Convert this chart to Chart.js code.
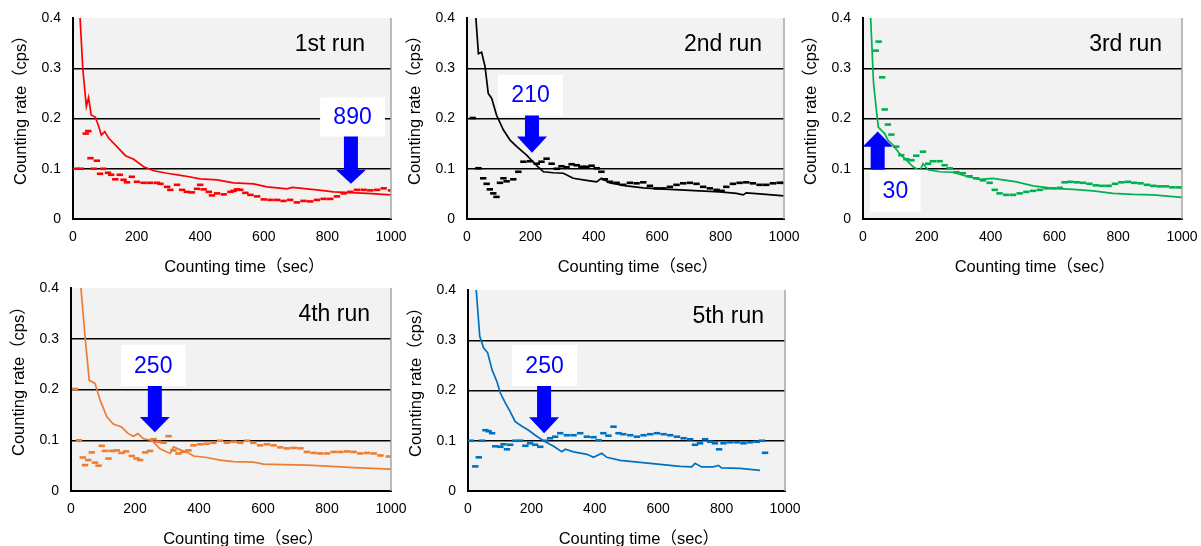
<!DOCTYPE html>
<html>
<head>
<meta charset="utf-8">
<script src="https://cdn.jsdelivr.net/npm/chart.js@4.4.0/dist/chart.umd.min.js"></script>
<style>
  body { margin: 0; background: #fff; overflow: hidden; width: 1201px; height: 546px; position: relative; }
  canvas { position: absolute; }
</style>
</head>
<body>
<canvas id="run1"></canvas>
<canvas id="run2"></canvas>
<canvas id="run3"></canvas>
<canvas id="run4"></canvas>
<canvas id="run5"></canvas>
<script>
// values (time in sec, rate in cps)
var run1LineT = [18, 31, 42, 49, 57, 70, 81, 89, 100, 112, 138, 165, 191, 222, 254, 296, 348, 400, 453, 505, 568, 610, 673, 689, 767, 820, 925, 1000];
var run1LineY = [0.45, 0.297, 0.224, 0.242, 0.207, 0.203, 0.184, 0.167, 0.174, 0.161, 0.144, 0.126, 0.119, 0.104, 0.096, 0.091, 0.086, 0.080, 0.078, 0.072, 0.070, 0.064, 0.060, 0.063, 0.058, 0.054, 0.051, 0.048];
var run1DotT = [10, 25, 40, 48, 55, 65, 75, 85, 95, 110, 120, 133, 147, 159, 170, 185, 201, 222, 243, 264, 275, 296, 306, 327, 343, 358, 374, 390, 400, 411, 427, 437, 453, 474, 495, 505, 516, 526, 542, 558, 579, 600, 621, 642, 662, 683, 704, 725, 746, 767, 788, 809, 830, 851, 872, 893, 914, 935, 956, 977, 1000];
var run1DotY = [0.100, 0.100, 0.170, 0.175, 0.121, 0.100, 0.116, 0.090, 0.100, 0.092, 0.088, 0.079, 0.088, 0.078, 0.073, 0.084, 0.074, 0.072, 0.072, 0.072, 0.070, 0.064, 0.058, 0.068, 0.058, 0.054, 0.053, 0.060, 0.068, 0.059, 0.054, 0.047, 0.051, 0.049, 0.054, 0.056, 0.059, 0.058, 0.052, 0.048, 0.045, 0.039, 0.038, 0.038, 0.036, 0.038, 0.033, 0.036, 0.035, 0.038, 0.040, 0.040, 0.045, 0.051, 0.054, 0.058, 0.058, 0.057, 0.058, 0.061, 0.057];

var run2LineT = [20, 28, 36, 46, 57, 67, 78, 93, 115, 136, 157, 188, 220, 241, 272, 304, 335, 377, 409, 424, 451, 503, 556, 608, 671, 734, 797, 850, 871, 881, 923, 1000];
var run2LineY = [0.5, 0.4, 0.329, 0.332, 0.303, 0.25, 0.24, 0.207, 0.177, 0.157, 0.144, 0.127, 0.106, 0.094, 0.092, 0.091, 0.081, 0.077, 0.074, 0.081, 0.072, 0.066, 0.062, 0.060, 0.058, 0.056, 0.054, 0.051, 0.048, 0.052, 0.050, 0.046];
var run2DotT = [18, 36, 51, 62, 72, 83, 93, 104, 115, 125, 146, 162, 178, 199, 220, 235, 251, 267, 283, 298, 314, 330, 346, 361, 377, 393, 409, 424, 435, 451, 472, 493, 514, 535, 556, 577, 598, 619, 640, 661, 682, 703, 724, 745, 766, 787, 803, 818, 839, 860, 881, 902, 923, 944, 965, 986, 1000];
var run2DotY = [0.201, 0.101, 0.081, 0.070, 0.059, 0.051, 0.044, 0.072, 0.081, 0.075, 0.079, 0.094, 0.114, 0.115, 0.110, 0.114, 0.120, 0.110, 0.100, 0.105, 0.103, 0.109, 0.107, 0.104, 0.104, 0.106, 0.101, 0.094, 0.079, 0.074, 0.072, 0.068, 0.072, 0.071, 0.073, 0.066, 0.061, 0.061, 0.064, 0.068, 0.071, 0.072, 0.070, 0.064, 0.061, 0.058, 0.056, 0.064, 0.070, 0.072, 0.073, 0.071, 0.068, 0.068, 0.071, 0.072, 0.072];

var run3LineT = [18, 24, 33, 42, 48, 57, 68, 78, 94, 115, 136, 157, 178, 188, 204, 240, 282, 324, 366, 408, 428, 481, 533, 596, 658, 721, 784, 846, 909, 1000];
var run3LineY = [0.5, 0.4, 0.27, 0.217, 0.183, 0.177, 0.17, 0.157, 0.147, 0.13, 0.117, 0.104, 0.096, 0.11, 0.098, 0.094, 0.093, 0.085, 0.079, 0.081, 0.079, 0.074, 0.066, 0.061, 0.059, 0.056, 0.051, 0.049, 0.048, 0.043];
var run3DotT = [40, 49, 60, 68, 78, 89, 104, 120, 136, 152, 167, 188, 204, 219, 240, 256, 272, 293, 313, 334, 355, 376, 397, 413, 428, 449, 470, 491, 512, 533, 554, 575, 596, 617, 632, 650, 670, 690, 710, 730, 750, 770, 790, 810, 830, 850, 870, 890, 910, 930, 950, 970, 990, 1000];
var run3DotY = [0.335, 0.353, 0.282, 0.218, 0.188, 0.168, 0.144, 0.127, 0.119, 0.117, 0.126, 0.134, 0.110, 0.115, 0.115, 0.107, 0.101, 0.093, 0.091, 0.085, 0.081, 0.077, 0.072, 0.058, 0.051, 0.048, 0.048, 0.051, 0.054, 0.056, 0.058, 0.061, 0.061, 0.062, 0.073, 0.074, 0.073, 0.072, 0.070, 0.067, 0.066, 0.066, 0.070, 0.073, 0.074, 0.072, 0.071, 0.068, 0.066, 0.065, 0.065, 0.063, 0.063, 0.063];

var run4LineT = [20, 31, 44, 57, 75, 91, 112, 132, 158, 179, 195, 209, 226, 252, 278, 310, 320, 346, 362, 383, 424, 466, 508, 570, 602, 664, 737, 800, 883, 1000];
var run4LineY = [0.5, 0.4, 0.304, 0.218, 0.212, 0.179, 0.146, 0.132, 0.126, 0.113, 0.108, 0.113, 0.103, 0.1, 0.083, 0.074, 0.087, 0.08, 0.077, 0.069, 0.066, 0.061, 0.058, 0.057, 0.053, 0.052, 0.051, 0.049, 0.046, 0.043];
var run4DotT = [13, 25, 37, 44, 54, 65, 75, 86, 96, 106, 117, 127, 143, 158, 172, 190, 205, 216, 232, 247, 258, 273, 289, 305, 320, 336, 352, 367, 383, 404, 424, 445, 466, 487, 508, 529, 550, 570, 591, 612, 633, 654, 675, 696, 717, 737, 758, 779, 800, 821, 842, 863, 883, 904, 925, 946, 967, 993];
var run4DotY = [0.201, 0.1, 0.066, 0.051, 0.061, 0.076, 0.056, 0.05, 0.089, 0.079, 0.064, 0.079, 0.08, 0.075, 0.078, 0.069, 0.064, 0.061, 0.076, 0.079, 0.102, 0.097, 0.095, 0.108, 0.08, 0.074, 0.077, 0.08, 0.09, 0.092, 0.093, 0.095, 0.099, 0.095, 0.097, 0.095, 0.099, 0.095, 0.09, 0.092, 0.09, 0.086, 0.084, 0.085, 0.084, 0.077, 0.075, 0.074, 0.074, 0.077, 0.077, 0.078, 0.077, 0.074, 0.075, 0.074, 0.07, 0.068];

var run5LineT = [18, 26, 37, 49, 62, 76, 91, 102, 118, 133, 149, 170, 191, 212, 238, 270, 296, 307, 333, 375, 396, 422, 438, 480, 543, 606, 669, 706, 716, 737, 774, 790, 800, 858, 921];
var run5LineY = [0.5, 0.4, 0.308, 0.285, 0.275, 0.241, 0.218, 0.195, 0.175, 0.158, 0.138, 0.129, 0.121, 0.111, 0.1, 0.089, 0.078, 0.083, 0.078, 0.073, 0.067, 0.075, 0.067, 0.061, 0.057, 0.053, 0.049, 0.048, 0.055, 0.048, 0.048, 0.051, 0.046, 0.045, 0.041];
var run5DotT = [9, 23, 34, 44, 55, 65, 76, 86, 102, 112, 123, 133, 149, 165, 181, 196, 212, 228, 244, 259, 275, 291, 312, 333, 354, 375, 396, 412, 427, 443, 459, 475, 490, 512, 533, 554, 575, 596, 617, 638, 659, 680, 701, 716, 732, 748, 764, 779, 792, 806, 827, 848, 869, 890, 911, 927, 937];
var run5DotY = [0.1, 0.049, 0.067, 0.1, 0.121, 0.119, 0.115, 0.089, 0.088, 0.093, 0.083, 0.092, 0.1, 0.1, 0.09, 0.095, 0.092, 0.088, 0.1, 0.105, 0.108, 0.115, 0.111, 0.111, 0.115, 0.108, 0.107, 0.101, 0.115, 0.11, 0.128, 0.115, 0.113, 0.111, 0.108, 0.111, 0.113, 0.115, 0.113, 0.111, 0.108, 0.105, 0.103, 0.092, 0.095, 0.103, 0.098, 0.095, 0.083, 0.095, 0.097, 0.097, 0.095, 0.097, 0.098, 0.1, 0.076];

var runNames = ['1st run', '2nd run', '3rd run', '4th run', '5th run'];
var runColors = ['#ff0000', '#000000', '#00b050', '#ed7d31', '#0070c0'];
var arrowLabels = ['890', '210', '30', '250', '250'];

// plot-area box of each panel on the page (left, top, right, bottom in px)
var panels = [
  {id: 'run1', left: 73,  top: 18,  right: 391,  bottom: 219, nameInset: 26},
  {id: 'run2', left: 467, top: 18,  right: 784,  bottom: 219, nameInset: 22},
  {id: 'run3', left: 863, top: 18,  right: 1182, bottom: 219, nameInset: 20},
  {id: 'run4', left: 71,  top: 288, right: 391,  bottom: 491, nameInset: 21},
  {id: 'run5', left: 468, top: 290, right: 785,  bottom: 491, nameInset: 21}
];
var Y_AXIS_W = 73, X_AXIS_H = 58, PAD_TOP = 22, PAD_RIGHT = 28;

// arrows + label boxes, in axis units
var callouts = [
  {x: 874, tip: 0.070, head: 0.098, tail: 0.164, box: [777, 981, 0.164, 0.242]},
  {x: 205, tip: 0.132, head: 0.164, tail: 0.206, box: [98, 303, 0.206, 0.287]},
  {x: 46,  tip: 0.174, head: 0.144, tail: 0.098, box: [22, 181, 0.0145, 0.098]},
  {x: 262, tip: 0.116, head: 0.146, tail: 0.207, box: [156, 358, 0.207, 0.288]},
  {x: 240, tip: 0.115, head: 0.147, tail: 0.209, box: [139, 344, 0.209, 0.290]}
];

var FONT = '"Liberation Sans", Arial, "Noto Sans CJK JP", sans-serif';
Chart.defaults.font.family = FONT;
Chart.defaults.color = '#000';

function toPoints(ts, ys) {
  var pts = [];
  for (var i = 0; i < ts.length; i++) pts.push({x: ts[i], y: ys[i]});
  return pts;
}

var decor = {
  id: 'decor',
  beforeDraw: function(chart) {
    var a = chart.chartArea, ctx = chart.ctx;
    ctx.save();
    ctx.fillStyle = '#f2f2f2';
    ctx.fillRect(a.left, a.top, a.right - a.left, a.bottom - a.top);
    ctx.restore();
  },
  afterDatasetsDraw: function(chart, args, opts) {
    var a = chart.chartArea, ctx = chart.ctx;
    var xs = chart.scales.x, ys = chart.scales.y;
    var c = opts.callout;
    ctx.save();
    // grey frame on the right
    ctx.strokeStyle = '#a6a6a6';
    ctx.lineWidth = 1.5;
    ctx.beginPath();
    ctx.moveTo(a.right, a.top);
    ctx.lineTo(a.right, a.bottom);
    ctx.stroke();

    // run name
    ctx.fillStyle = '#000';
    ctx.font = '23px ' + FONT;
    ctx.textAlign = 'right';
    ctx.textBaseline = 'middle';
    ctx.fillText(opts.name, a.right - opts.inset, a.top + 27);

    // white label box
    var bx0 = xs.getPixelForValue(c.box[0]), bx1 = xs.getPixelForValue(c.box[1]);
    var by0 = ys.getPixelForValue(c.box[2]), by1 = ys.getPixelForValue(c.box[3]);
    ctx.fillStyle = '#ffffff';
    ctx.fillRect(bx0, by1, bx1 - bx0, by0 - by1);
    ctx.fillStyle = '#0000ff';
    ctx.font = '23px ' + FONT;
    ctx.textAlign = 'center';
    ctx.fillText(opts.label, (bx0 + bx1) / 2, (by0 + by1) / 2 + 1);

    // block arrow
    var cx = xs.getPixelForValue(c.x);
    var yTip = ys.getPixelForValue(c.tip), yHead = ys.getPixelForValue(c.head), yTail = ys.getPixelForValue(c.tail);
    ctx.beginPath();
    ctx.moveTo(cx - 7, yTail);
    ctx.lineTo(cx - 7, yHead);
    ctx.lineTo(cx - 15, yHead);
    ctx.lineTo(cx, yTip);
    ctx.lineTo(cx + 15, yHead);
    ctx.lineTo(cx + 7, yHead);
    ctx.lineTo(cx + 7, yTail);
    ctx.closePath();
    ctx.fill();
    ctx.restore();
  }
};

var allLines = [[run1LineT, run1LineY], [run2LineT, run2LineY], [run3LineT, run3LineY], [run4LineT, run4LineY], [run5LineT, run5LineY]];
var allDots = [[run1DotT, run1DotY], [run2DotT, run2DotY], [run3DotT, run3DotY], [run4DotT, run4DotY], [run5DotT, run5DotY]];

function runChart(i) {
  var p = panels[i];
  var cv = document.getElementById(p.id);
  var w = Y_AXIS_W + (p.right - p.left) + PAD_RIGHT;
  var h = PAD_TOP + (p.bottom - p.top) + X_AXIS_H;
  cv.width = w; cv.height = h;
  cv.style.left = (p.left - Y_AXIS_W) + 'px'; cv.style.top = (p.top - PAD_TOP) + 'px';
  cv.style.width = w + 'px'; cv.style.height = h + 'px';

  var col = runColors[i];
  var config = {
    type: 'scatter',
    data: {
      datasets: [{
        data: toPoints(allLines[i][0], allLines[i][1]),
        showLine: true,
        borderColor: col,
        borderWidth: 1.7,
        tension: 0,
        pointRadius: 0
      }, {
        data: toPoints(allDots[i][0], allDots[i][1]),
        showLine: false,
        pointStyle: 'line',
        pointRadius: 3.2,
        pointBorderWidth: 2.6,
        pointBorderColor: col,
        pointBackgroundColor: col
      }]
    },
    options: {
      responsive: false,
      animation: false,
      events: [],
      layout: {padding: {top: PAD_TOP, right: PAD_RIGHT, bottom: 0, left: 0}},
      plugins: {
        legend: {display: false},
        tooltip: {enabled: false},
        decor: {name: runNames[i], inset: p.nameInset, label: arrowLabels[i], callout: callouts[i]}
      },
      scales: {
        x: {
          type: 'linear', min: 0, max: 1000,
          ticks: {stepSize: 200, padding: 10, maxRotation: 0, autoSkip: false, font: {size: 14},
            callback: function(v) { return String(v); }},
          grid: {display: false, drawTicks: false},
          border: {color: '#000', width: 2},
          // leading wide spaces nudge the visible text as in the original
          title: {display: true, text: '\u3000\u2002Counting time（sec）', font: {size: 16.5}, padding: {top: 0, bottom: 0}},
          afterFit: function(s) { s.height = X_AXIS_H; }
        },
        y: {
          min: 0, max: 0.4,
          ticks: {stepSize: 0.1, padding: 12, font: {size: 14},
            callback: function(v) { return v === 0 ? '0' : v.toFixed(1); }},
          grid: {drawTicks: false, lineWidth: 1.5,
            color: function(ctx) {
              var v = ctx.tick ? ctx.tick.value : 0;
              return (v > 0.001 && v < 0.399) ? '#000' : 'rgba(0,0,0,0)';
            }},
          border: {color: '#000', width: 2},
          title: {display: true, text: '\u3000\u2002Counting rate（cps）', font: {size: 16.5}, padding: {top: 12, bottom: 0}},
          afterFit: function(s) { s.width = Y_AXIS_W; }
        }
      }
    },
    plugins: [decor]
  };
  return new Chart(cv, config);
}

for (var k = 0; k < panels.length; k++) runChart(k);
</script>
</body>
</html>
